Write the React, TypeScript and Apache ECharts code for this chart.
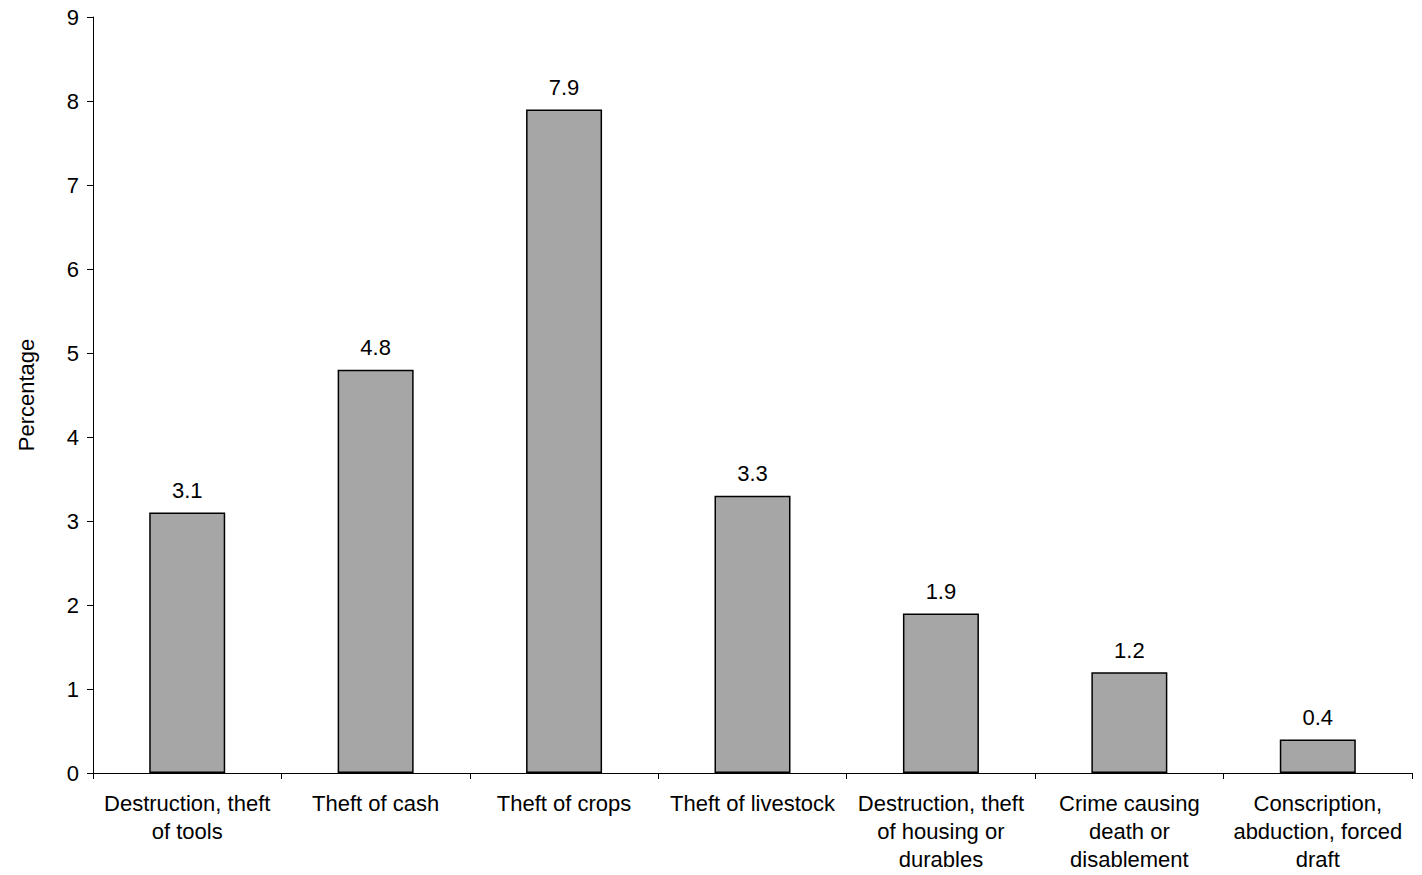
import React, { useEffect, useRef } from "react";
import * as echarts from "echarts";

const categories = [
  "Destruction, theft\nof tools",
  "Theft of cash",
  "Theft of crops",
  "Theft of livestock",
  "Destruction, theft\nof housing or\ndurables",
  "Crime causing\ndeath or\ndisablement",
  "Conscription,\nabduction, forced\ndraft",
];
const values = [3.1, 4.8, 7.9, 3.3, 1.9, 1.2, 0.4];
const yTicks = { min: 0, max: 9, interval: 1 };

const FONT = "'Liberation Sans', Arial, sans-serif";
const FS = 22;

export default function App() {
  const ref = useRef<HTMLDivElement>(null);
  useEffect(() => {
    if (!ref.current) return;
    const chart = echarts.init(ref.current, null, { renderer: "svg" });
    chart.setOption({
      animation: false,
      backgroundColor: "#ffffff",
      textStyle: { fontFamily: FONT, color: "#000" },
      grid: { left: 93, right: 10, top: 17, bottom: 102, containLabel: false },
      xAxis: {
        type: "category",
        data: categories,
        axisLine: { lineStyle: { color: "#000", width: 1 } },
        axisTick: { show: true, length: 6, alignWithLabel: false, lineStyle: { color: "#000" } },
        axisLabel: {
          interval: 0,
          color: "#000",
          fontSize: FS,
          fontFamily: FONT,
          lineHeight: 28,
          margin: 16,
        },
        splitLine: { show: false },
      },
      yAxis: {
        type: "value",
        min: yTicks.min,
        max: yTicks.max,
        interval: yTicks.interval,
        name: "Percentage",
        nameLocation: "middle",
        nameRotate: 90,
        nameGap: 56,
        nameTextStyle: { color: "#000", fontSize: FS, fontFamily: FONT },
        axisLine: { show: true, lineStyle: { color: "#000", width: 1 } },
        axisTick: { show: true, length: 6, lineStyle: { color: "#000" } },
        axisLabel: { color: "#000", fontSize: FS, fontFamily: FONT, margin: 14 },
        splitLine: { show: false },
      },
      series: [
        {
          type: "bar",
          data: values,
          barWidth: 76,
          itemStyle: { color: "#a6a6a6", borderColor: "#000", borderWidth: 1.5 },
          label: {
            show: true,
            position: "top",
            distance: 11,
            color: "#000",
            fontSize: FS,
            fontFamily: FONT,
            formatter: (p: any) => p.value.toFixed(1),
          },
        },
      ],
    });
    return () => chart.dispose();
  }, []);
  return (
    <div
      ref={ref}
      style={{ position: "fixed", left: 0, top: 0, width: 1422, height: 875, background: "#fff" }}
    />
  );
}
